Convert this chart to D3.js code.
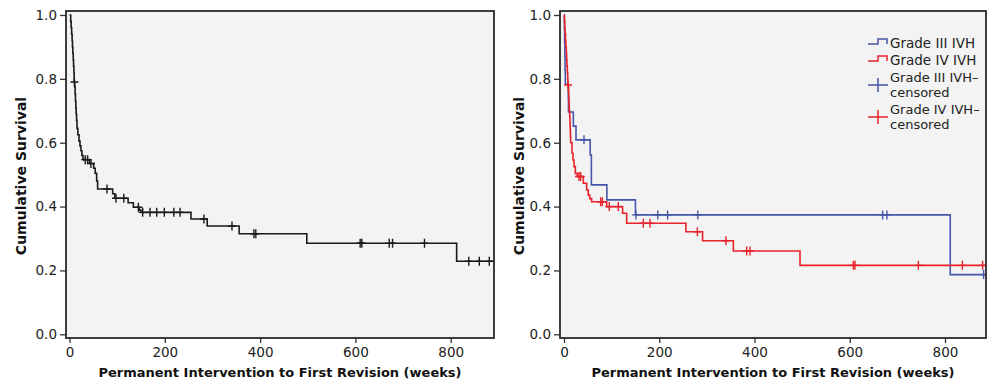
<!DOCTYPE html>
<html><head><meta charset="utf-8">
<script src="https://cdn.jsdelivr.net/npm/d3@7"></script>
<style>body{margin:0;background:#fff}svg{display:block}</style>
</head><body><svg id="c" width="990" height="381"></svg>
<script>
// ---- data ----
const xTicks = [0, 200, 400, 600, 800];
const yTicks = [0, 0.2, 0.4, 0.6, 0.8, 1.0];
const xTitle = "Permanent Intervention to First Revision (weeks)";
const yTitle = "Cumulative Survival";

// left panel: all patients (time in weeks, survival after event)
const allEventTimes = [2.5,3.5,4.5,5.5,6.2,7,7.8,8.5,9.2,9.8,11,11.8,12.5,13.3,14,14.8,15.7,17.5,20,22,24,26,28.3,42,50.8,54,57,59,90.6,95,123,134,146.5,150,255,289,356,498,812.5];
const allEventSurv  = [0.98,0.96,0.94,0.92,0.90,0.88,0.86,0.84,0.82,0.79,0.775,0.752,0.73,0.71,0.69,0.67,0.645,0.625,0.605,0.59,0.575,0.56,0.547,0.535,0.52,0.504,0.48,0.455,0.44,0.426,0.412,0.398,0.389,0.382,0.361,0.339,0.315,0.285,0.229];
const allCensored   = [10.3,33,38,45,78.7,97.6,114,144.5,153.6,169,183,199,219,232,282,341,387,391,610,613.5,671,678,745,838,860,881];

// right panel: Grade III IVH
const g3EventTimes = [0.8,1.3,1.8,2.3,2.8,9,9.4,19.6,25.2,55,57.5,90,150,811];
const g3EventSurv  = [0.957,0.913,0.87,0.826,0.783,0.739,0.696,0.652,0.609,0.562,0.468,0.421,0.374,0.187];
const g3Censored   = [42,151,197,217.5,281,669,678,881];

// right panel: Grade IV IVH
const g4EventTimes = [0.8,1.6,2.4,3.2,4,4.9,5.5,6.2,7,7.8,8.2,9.5,10,10.5,11,12,12.6,13,13.5,14,16.8,18.9,21,23.8,28,40.6,47.6,51,54,58,89.6,123,131.6,256,291,355.6,495.6];
const g4EventSurv  = [0.98,0.96,0.94,0.92,0.90,0.88,0.86,0.84,0.82,0.80,0.781,0.76,0.74,0.72,0.70,0.68,0.66,0.64,0.62,0.60,0.567,0.546,0.525,0.504,0.494,0.473,0.452,0.436,0.425,0.415,0.40,0.379,0.348,0.321,0.293,0.261,0.216];
const g4Censored   = [8.6,31.5,35,77,80.5,95,114,166.6,180.6,280,340,383.6,390.6,607.6,611,744,836.5,879];

const legendLabels = [["Grade III IVH"],["Grade IV IVH"],["Grade III IVH\u2013","censored"],["Grade IV IVH\u2013","censored"]];

// ---- drawing ----
const svg = d3.select("#c");
const FONT = "DejaVu Sans";
const BLUE = "#4656a8", RED = "#e8232b", BLACK = "#1a1a1a";

function panel(cfg) {
  const g = svg.append("g");
  const x = d3.scaleLinear().domain([0, 800]).range([cfg.x0, cfg.x800]);
  const y = d3.scaleLinear().domain([0, 1]).range([334.3, 15]);
  const L = cfg.left, R = cfg.right, T = 11, B = 338;
  g.append("rect").attr("x", L).attr("y", T).attr("width", R - L).attr("height", B - T).attr("fill", "#f3f3f3");
  const cid = "clip" + cfg.id;
  svg.append("clipPath").attr("id", cid).append("rect").attr("x", L).attr("y", T - 2).attr("width", R - L).attr("height", B - T + 2);
  const tMax = x.invert(R);

  const xAxis = d3.axisBottom(x).tickValues(xTicks).tickSize(5).tickPadding(4).tickFormat(d3.format("d"));
  const yAxis = d3.axisLeft(y).tickValues(yTicks).tickSize(6).tickPadding(3).tickFormat(d3.format(".1f"));
  const gx = g.append("g").attr("transform", `translate(0,${B})`).call(xAxis);
  const gy = g.append("g").attr("transform", `translate(${L},0)`).call(yAxis);
  [gx, gy].forEach(a => {
    a.select(".domain").remove();
    a.selectAll(".tick line").attr("stroke", "#333").attr("stroke-width", 1.3);
    a.selectAll(".tick text").attr("font-family", FONT).attr("font-size", 13.5).attr("fill", "#222");
  });

  const curves = g.append("g").attr("clip-path", `url(#${cid})`);
  cfg.series.forEach(s => {
    const pts = [[0, 1]].concat(s.times.map((t, i) => [t, s.surv[i]]));
    pts.push([tMax, s.surv[s.surv.length - 1]]);
    const line = d3.line().x(d => x(d[0])).y(d => y(d[1])).curve(d3.curveStepAfter);
    curves.append("path").attr("d", line(pts)).attr("fill", "none").attr("stroke", s.color).attr("stroke-width", 1.6);
    const survAt = t => { let v = 1; s.times.forEach((et, i) => { if (et <= t) v = s.surv[i]; }); return v; };
    s.cens.forEach(t => {
      const cx = x(t), cy = y(survAt(t));
      curves.append("path").attr("d", `M${cx - 4},${cy}H${cx + 4}M${cx},${cy - 4.5}V${cy + 4.5}`)
        .attr("stroke", s.color).attr("stroke-width", 1.4).attr("fill", "none");
    });
  });

  g.append("rect").attr("x", L).attr("y", T).attr("width", R - L).attr("height", B - T)
    .attr("fill", "none").attr("stroke", "#2a2a2a").attr("stroke-width", 1.8);

  g.append("text").attr("x", (L + R) / 2).attr("y", 377).attr("text-anchor", "middle")
    .attr("font-family", FONT).attr("font-weight", "bold").attr("font-size", 13).attr("fill", "#111").text(xTitle);
  g.append("text").attr("transform", `translate(${cfg.ytx},176) rotate(-90)`).attr("text-anchor", "middle")
    .attr("font-family", FONT).attr("font-weight", "bold").attr("font-size", 14).attr("fill", "#111").text(yTitle);
  return g;
}

panel({ id: "L", x0: 69.5, x800: 450.7, left: 66, right: 494, ytx: 26,
  series: [{ times: allEventTimes, surv: allEventSurv, cens: allCensored, color: BLACK }] });

panel({ id: "R", x0: 564, x800: 945, left: 560, right: 986, ytx: 524,
  series: [
    { times: g3EventTimes, surv: g3EventSurv, cens: g3Censored, color: BLUE },
    { times: g4EventTimes, surv: g4EventSurv, cens: g4Censored, color: RED }
  ] });

// legend
const leg = svg.append("g");
const lx = 868, rowY = [43, 60, 85, 117];
const colors = [BLUE, RED, BLUE, RED];
legendLabels.forEach((lab, i) => {
  const cy = rowY[i];
  if (i < 2) {
    leg.append("path").attr("d", `M${lx},${cy + 1}H${lx + 10}V${cy - 4}H${lx + 19}V${cy + 1}`)
      .attr("fill", "none").attr("stroke", colors[i]).attr("stroke-width", 1.5);
  } else {
    leg.append("path").attr("d", `M${lx},${cy}H${lx + 20}M${lx + 10},${cy - 7}V${cy + 7}`)
      .attr("fill", "none").attr("stroke", colors[i]).attr("stroke-width", 1.5);
  }
  if (lab.length === 1) {
    leg.append("text").attr("font-family", FONT).attr("font-size", 13.5).attr("fill", "#222")
      .attr("x", lx + 22).attr("y", cy + 5).text(lab[0]);
  } else {
    leg.append("text").attr("font-family", FONT).attr("font-size", 13).attr("fill", "#222")
      .attr("x", lx + 22).attr("y", cy - 3).text(lab[0]);
    leg.append("text").attr("font-family", FONT).attr("font-size", 13).attr("fill", "#222")
      .attr("x", lx + 22).attr("y", cy + 12).text(lab[1]);
  }
});
</script></body></html>
